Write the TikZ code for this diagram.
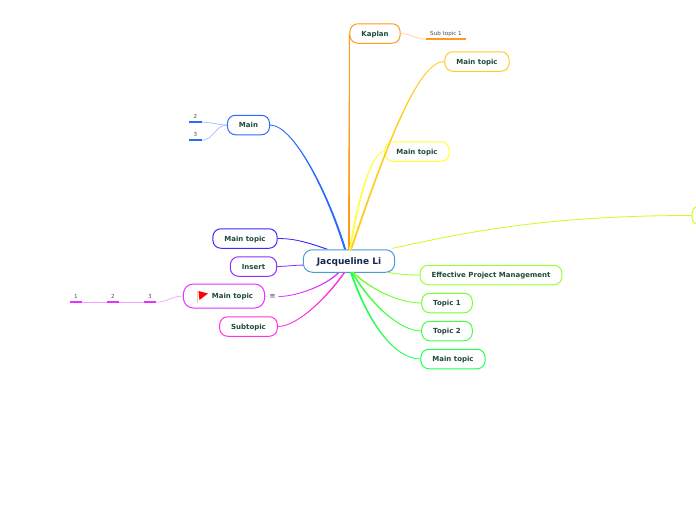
\documentclass[tikz,border=0pt]{standalone}
\usepackage{fontspec}
\setmainfont{DejaVu Sans}
\usetikzlibrary{positioning}
\definecolor{inktext}{HTML}{1F4A3C}
\definecolor{roottext}{HTML}{16264F}
\definecolor{rootline}{HTML}{4A9AD4}
\definecolor{kaplancol}{HTML}{FF9A1A}
\definecolor{goldcol}{HTML}{FFCC22}
\definecolor{yellowcol}{HTML}{FFFF33}
\definecolor{limecol}{HTML}{C8FF22}
\definecolor{effcol}{HTML}{99FF33}
\definecolor{oneCol}{HTML}{77FF33}
\definecolor{twoCol}{HTML}{44FF44}
\definecolor{greenCol}{HTML}{22FF55}
\definecolor{mainCol}{HTML}{2A6BFF}
\definecolor{blueCol}{HTML}{3A2AFF}
\definecolor{insertCol}{HTML}{8A33FF}
\definecolor{flagCol}{HTML}{E033FF}
\definecolor{subCol}{HTML}{FF33DD}
\tikzset{
    topic/.style={draw=#1, line width=1pt, rounded corners=8pt, fill=white, minimum height=19.5pt,
        inner xsep=11.5pt, inner ysep=0pt, text height=5.4pt, text depth=0pt, text=inktext,
        font=\fontsize{7}{8}\selectfont\bfseries},
    subtext/.style={minimum height=12pt, inner sep=0pt, text=black!70, text height=4.6pt, text depth=0pt, font=\fontsize{5.6}{6}\selectfont},
    sublink/.style={draw=#1!45, line width=0.7pt},
    subline/.style={draw=#1, line width=1.6pt}
}
% colour, start, offset at start, end, offset at end, half width at start
\newcommand{\branch}[6]{
    \filldraw[draw=#1, fill=#1, line width=0.8pt] ([shift={(-#6)}]#2) .. controls +(#3) and +(#5) .. (#4)
        .. controls +(#5) and +(#3) .. ([shift={(#6)}]#2) -- cycle;
}

\begin{document}
\begin{tikzpicture}[on grid]
        \clip (0pt,0pt) rectangle (696pt,-520pt);
        \node[topic=rootline, minimum height=22.5pt, rounded corners=9pt, inner xsep=13.5pt, text height=6.6pt, text=roottext, font=\fontsize{9}{10}\selectfont\bfseries] (root) at (349pt,-261pt) {Jacqueline Li};

        \node[topic=kaplancol] (kaplan) [above right=227.5pt and 26pt of root] {Kaplan};
        \node[subtext, minimum width=40pt] (subone) [above right=0.5pt and 71pt of kaplan] {Sub topic 1};
        \node[topic=goldcol] (gold) [above right=199.5pt and 128pt of root] {Main topic};
        \node[topic=yellowcol] (yellow) [above right=109.5pt and 68pt of root] {Main topic};
        \node[topic=limecol, minimum width=64pt] (lime) [above right=45.5pt and 375pt of root] {};
        \node[topic=effcol] (effective) [below right=14pt and 142pt of root] {Effective Project Management};
        \node[topic=oneCol] (topicone) [below right=42pt and 98pt of root] {Topic 1};
        \node[topic=twoCol] (topictwo) [below right=70pt and 98pt of root] {Topic 2};
        \node[topic=greenCol] (green) [below right=98pt and 104pt of root] {Main topic};

        \node[topic=mainCol] (main) [above left=136pt and 100.5pt of root] {Main};
        \node[subtext, minimum width=12.5pt] (maintwo) [above left=9pt and 53pt of main] {2};
        \node[subtext, minimum width=12.5pt] (mainthree) [below left=9pt and 53pt of main] {3};
        \node[topic=blueCol] (blue) [above left=22.5pt and 104pt of root] {Main topic};
        \node[topic=insertCol] (insert) [below left=5.5pt and 95.5pt of root] {Insert};
        \node[topic=flagCol, minimum height=24pt, rounded corners=10pt] (flag) [below left=35pt and 125pt of root] {\hspace{17pt}Main topic};
        \node[inner xsep=3pt, inner ysep=0pt, text=inktext, font=\fontsize{7}{8}\selectfont] (note) [below right=0.5pt and 48.5pt of flag] {≡};
        \node[topic=subCol] (subtopic) [below left=65.5pt and 100.5pt of root] {Subtopic};
        \node[subtext, minimum width=12pt] (flagthree) [below left=0pt and 74pt of flag] {3};
        \node[subtext, minimum width=12pt] (flagtwo) [left=37pt of flagthree] {2};
        \node[subtext, minimum width=12pt] (flagone) [left=37pt of flagtwo] {1};

        % little red flag in front of the text
        \fill[brown!35] ([xshift=14.6pt,yshift=5pt]flag.west) rectangle ([xshift=15.6pt,yshift=-7pt]flag.west);
        \fill[red] ([xshift=15.6pt,yshift=5pt]flag.west) -- ([xshift=25pt,yshift=2.5pt]flag.west) -- ([xshift=16.6pt,yshift=-4pt]flag.west) -- cycle;

        \coordinate (outgold) at ([xshift=2pt]root.north);
        \coordinate (outyellow) at ([xshift=1pt]root.north);
        \coordinate (outlime) at ([xshift=-3pt]root.north east);
        \coordinate (outeff) at ([xshift=-7pt]root.south east);
        \coordinate (outone) at ([xshift=4pt]root.south);
        \coordinate (outtwo) at ([xshift=3pt]root.south);
        \coordinate (outgreen) at ([xshift=2pt]root.south);
        \coordinate (outmain) at ([xshift=-4pt]root.north);
        \coordinate (outblue) at ([xshift=23pt]root.north west);
        \coordinate (outinsert) at ([yshift=-4.5pt]root.west);
        \coordinate (outflag) at ([xshift=-11pt]root.south);
        \coordinate (outsub) at ([xshift=-5pt]root.south);

        \branch{kaplancol}{root.north}{0pt,60pt}{kaplan.west}{0pt,-60pt}{0.5pt,0pt}
        \branch{goldcol}{outgold}{39pt,115pt}{gold.west}{-25pt,0pt}{0.5pt,-0.2pt}
        \branch{yellowcol}{outyellow}{8pt,50pt}{yellow.west}{-13pt,0pt}{0.5pt,0pt}
        \branch{limecol}{outlime}{70pt,15pt}{lime.west}{-150pt,0pt}{0pt,0.9pt}
        \branch{effcol}{outeff}{10pt,-2pt}{effective.west}{-10pt,0pt}{0pt,0.4pt}
        \branch{oneCol}{outone}{19pt,-18pt}{topicone.west}{-21pt,0pt}{0.5pt,0.3pt}
        \branch{twoCol}{outtwo}{20pt,-33pt}{topictwo.west}{-21pt,0pt}{0.5pt,0.3pt}
        \branch{greenCol}{outgreen}{17pt,-50pt}{green.west}{-26pt,0pt}{0.5pt,0.2pt}

        \branch{mainCol}{outmain}{-15pt,50pt}{main.east}{25pt,0pt}{0.6pt,0.2pt}
        \branch{blueCol}{outblue}{-18pt,6pt}{blue.east}{18pt,0pt}{0.2pt,0.5pt}
        \branch{insertCol}{outinsert}{-8pt,0pt}{insert.east}{8pt,0pt}{0pt,0.4pt}
        \branch{flagCol}{outflag}{-13pt,-13pt}{note.east}{17pt,0pt}{0.4pt,-0.4pt}
        \branch{subCol}{outsub}{-16pt,-23pt}{subtopic.east}{20pt,0pt}{0.4pt,-0.3pt}

        \draw[sublink=flagCol] (note.west) -- (flag.east);
        \draw[sublink=kaplancol] (kaplan.east) to[out=0,in=180] (subone.south west);
        \draw[sublink=mainCol] (main.west) to[out=180,in=0] (maintwo.south east);
        \draw[sublink=mainCol] (main.west) to[out=180,in=0] (mainthree.south east);
        \draw[sublink=flagCol] (flag.west) to[out=180,in=0] (flagthree.south east);
        \draw[sublink=flagCol] (flagthree.south west) -- (flagtwo.south east);
        \draw[sublink=flagCol] (flagtwo.south west) -- (flagone.south east);

        \draw[subline=kaplancol] (subone.south west) -- (subone.south east);
        \draw[subline=mainCol] (maintwo.south west) -- (maintwo.south east);
        \draw[subline=mainCol] (mainthree.south west) -- (mainthree.south east);
        \draw[subline=flagCol] (flagone.south west) -- (flagone.south east);
        \draw[subline=flagCol] (flagtwo.south west) -- (flagtwo.south east);
        \draw[subline=flagCol] (flagthree.south west) -- (flagthree.south east);
    \end{tikzpicture}
\end{document}
